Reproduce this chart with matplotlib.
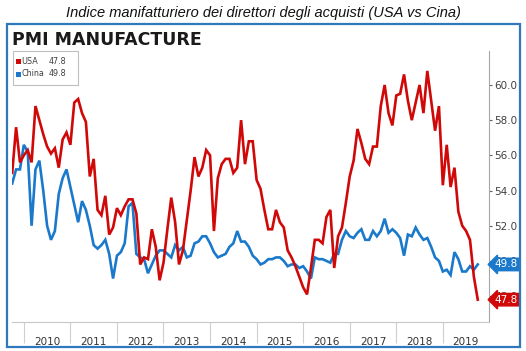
import numpy as np
import pandas as pd
import matplotlib
matplotlib.use("Agg")
import matplotlib.pyplot as plt
from matplotlib.patches import Rectangle

# Dati mensili (set 2009 - set 2019)
mesi = pd.date_range("2009-09-01", periods=121, freq="MS")

usa = [55.0, 57.6, 55.6, 56.0, 56.3, 55.6, 58.8, 58.0, 57.2, 56.5,
       56.1, 56.4, 55.3, 56.9, 57.3, 56.6, 59.0, 59.2, 58.4, 57.9,
       54.8, 55.8, 52.9, 52.6, 53.7, 51.5, 51.9, 53.0, 52.6, 53.1,
       53.5, 53.5, 52.7, 49.8, 50.2, 50.1, 51.8, 50.8, 48.9, 49.9,
       51.8, 53.6, 52.2, 49.8, 50.6, 52.3, 54.0, 55.9, 54.8, 55.3,
       56.3, 56.0, 51.7, 54.7, 55.5, 55.8, 55.8, 55.0, 55.3, 58.0,
       55.5, 56.8, 56.8, 54.6, 54.1, 52.9, 51.8, 51.8, 52.9, 52.2,
       51.9, 50.6, 50.2, 49.7, 49.1, 48.5, 48.1, 49.6, 51.2, 51.2,
       51.0, 52.5, 52.9, 49.6, 51.4, 51.9, 53.3, 54.8, 55.7, 57.5,
       56.7, 55.8, 55.5, 56.5, 56.5, 58.8, 60.0, 58.4, 57.7, 59.4,
       59.5, 60.6, 59.1, 58.0, 59.0, 60.0, 58.4, 60.8, 59.1, 57.4,
       58.8, 54.3, 56.6, 54.2, 55.3, 52.8, 52.0, 51.7, 51.2, 49.1,
       47.8]

cina = [54.4, 55.2, 55.2, 56.6, 56.2, 52.0, 55.2, 55.7, 54.0, 52.0,
        51.2, 51.7, 53.8, 54.7, 55.2, 54.2, 53.2, 52.2, 53.4, 52.9,
        52.0, 50.9, 50.7, 50.9, 51.2, 50.4, 49.0, 50.3, 50.5, 51.0,
        53.1, 53.3, 50.4, 50.2, 50.1, 49.3, 49.8, 50.3, 50.6, 50.6,
        50.4, 50.2, 50.9, 50.6, 50.8, 50.2, 50.3, 51.0, 51.1, 51.4,
        51.4, 51.0, 50.5, 50.2, 50.3, 50.4, 50.8, 51.0, 51.7, 51.1,
        51.1, 50.8, 50.3, 50.1, 49.8, 49.9, 50.1, 50.1, 50.2, 50.2,
        50.0, 49.7, 49.8, 49.8, 49.6, 49.7, 49.4, 49.0, 50.2, 50.1,
        50.1, 50.0, 49.9, 50.4, 50.4, 51.2, 51.7, 51.4, 51.3, 51.6,
        51.8, 51.2, 51.2, 51.7, 51.4, 51.7, 52.4, 51.6, 51.8, 51.6,
        51.3, 50.3, 51.5, 51.4, 51.9, 51.5, 51.2, 51.3, 50.8, 50.2,
        50.0, 49.4, 49.5, 49.2, 50.5, 50.1, 49.4, 49.4, 49.7, 49.5,
        49.8]

yticks = [48, 50, 52, 54, 56, 58, 60]

rosso = "#d00808"
blu = "#1b79cc"
grigio = "#a6a6a6"

W, H = 526, 351
fig = plt.figure(figsize=(W / 100, H / 100), dpi=100)

def fx(px):
    return px / W

def fy(py):
    return 1 - py / H

# cornice blu
fig.patches.append(Rectangle((fx(7), fy(347)), fx(513), 323 / H, transform=fig.transFigure,
                             fill=False, ec="#2f78bd", lw=1.6))

fig.text(0.5, fy(13), "Indice manifatturiero dei direttori degli acquisti (USA vs Cina)",
         ha="center", va="center", style="italic", fontsize=10.5, color="#111111",
         family=["Liberation Sans Narrow", "Liberation Sans", "DejaVu Sans"])
fig.text(fx(12), fy(40), "PMI MANUFACTURE", ha="left", va="center", fontsize=12.5,
         fontweight="bold", color="#1a1a1a", family="DejaVu Sans")

ax = fig.add_axes([fx(12), fy(322), fx(489 - 12), (322 - 51) / H])
x = np.arange(len(mesi))
ax.plot(x, cina, color=blu, lw=1.9, solid_joinstyle="miter")
ax.plot(x, usa, color=rosso, lw=1.9, solid_joinstyle="miter")

ax.set_xlim(-0.05, 122.9)
ax.set_ylim(46.53, 61.93)

for s in ["top", "left"]:
    ax.spines[s].set_visible(False)
ax.spines["right"].set_color(grigio)
ax.spines["bottom"].set_color("#c8c8c8")

ax.yaxis.tick_right()
ax.set_yticks(yticks)
ax.set_yticklabels([f"{v:.1f}" for v in yticks])
ax.tick_params(axis="y", which="major", direction="out", length=2.5, color="#606060",
               labelsize=7.5, labelcolor="#404040", pad=1.5)

# separatori anni e etichette
dic = [i for i, d in enumerate(mesi) if d.month == 12]
confini = dic + [122.9]
centri = [(confini[i] + confini[i + 1]) / 2 for i in range(len(confini) - 1)]
anni = [str(mesi[i].year + 1) for i in dic]
ax.set_xticks(dic)
ax.set_xticklabels([])
ax.set_xticks(centri, minor=True)
ax.set_xticklabels(anni, minor=True)
ax.tick_params(axis="x", which="major", direction="out", length=15, color="#cfcfcf", width=0.8)
ax.tick_params(axis="x", which="minor", length=0, labelsize=7.5, labelcolor="#333333", pad=11)

# etichette ultimo valore (coprono 50.0 e 48.0 come nell'originale)
for serie, col in [(cina, blu), (usa, rosso)]:
    ax.text(1.012, serie[-1], f"{serie[-1]:.1f}", transform=ax.get_yaxis_transform(),
            ha="left", va="center", fontsize=7.5, color="white", zorder=5,
            bbox=dict(boxstyle="larrow,pad=0.12", fc=col, ec=col))

# legenda
fig.patches.append(Rectangle((fx(13), fy(85)), fx(65), 34 / H, transform=fig.transFigure,
                             fill=True, fc="white", ec="#bfbfbf", lw=0.8))
for i, (nome, serie, col) in enumerate([("USA", usa, rosso), ("China", cina, blu)]):
    yy = fy(61 + i * 13)
    fig.patches.append(Rectangle((fx(16), yy - 2.5 / H), fx(5), 5 / H, transform=fig.transFigure,
                                 fc=col, ec="none"))
    fig.text(fx(21.5), yy, nome, ha="left", va="center", fontsize=5.8, color="#404040")
    fig.text(fx(66), yy, f"{serie[-1]:.1f}", ha="right", va="center", fontsize=5.8, color="#404040")

fig.savefig("out.png", dpi=100)
